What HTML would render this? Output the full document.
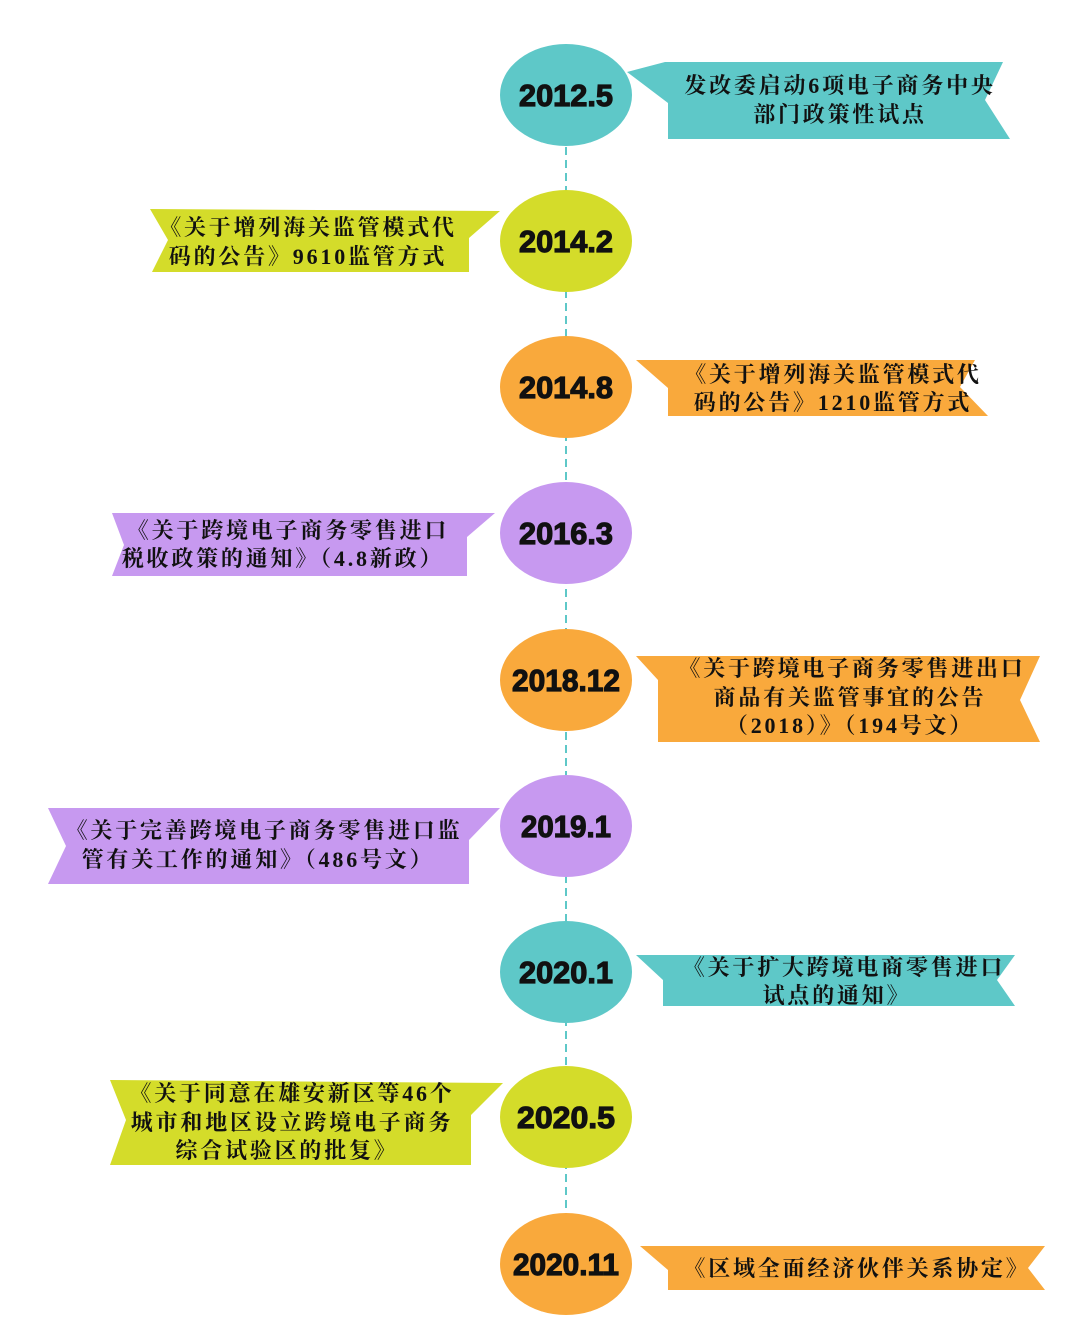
<!DOCTYPE html>
<html><head><meta charset="utf-8"><style>
html,body{margin:0;padding:0;background:#fff;width:1080px;height:1343px;overflow:hidden}
svg{display:block}
.t{font-family:"Liberation Serif","Noto Serif CJK SC","Noto Sans CJK SC",serif;font-weight:bold;font-size:22px;fill:#111;letter-spacing:2.8px}
.y{font-family:"Liberation Sans",sans-serif;font-weight:bold;font-size:31px;fill:#111;stroke:#111;stroke-width:1.2px}
</style></head><body>
<svg width="1080" height="1343" viewBox="0 0 1080 1343">
<line x1="566" y1="95" x2="566" y2="1264" stroke="#5ec8c8" stroke-width="2" stroke-dasharray="8,5"/>

<polygon points="627,72 665,62 1003,62 985,100 1010,139 668,139 668,103" fill="#5ec8c8"/>
<polygon points="636,360 668,360 975,360 960,387 988,416 668,416 668,388" fill="#f9a93c"/>
<polygon points="636,656 658,656 1040,656 1020,700 1040,742 658,742 658,680" fill="#f9a93c"/>
<polygon points="636,955 663,955 1015,955 997,980 1015,1006 663,1006 663,980" fill="#5ec8c8"/>
<polygon points="640,1246 668,1246 1045,1246 1028,1268 1045,1290 668,1290 668,1270" fill="#f9a93c"/>

<polygon points="500,211 150,209 168,240 152,272 469,272 469,238" fill="#d4dc2a"/>
<polygon points="495,513 112,513 124,545 112,576 467,576 467,537" fill="#c799f0"/>
<polygon points="500,808 48,808 66,846 48,884 469,884 469,840" fill="#c799f0"/>
<polygon points="503,1083 110,1080 126,1120 110,1165 471,1165 471,1115" fill="#d4dc2a"/>

<ellipse cx="566" cy="95" rx="66" ry="51" fill="#5ec8c8"/>
<ellipse cx="566" cy="241" rx="66" ry="51" fill="#d4dc2a"/>
<ellipse cx="566" cy="387" rx="66" ry="51" fill="#f9a93c"/>
<ellipse cx="566" cy="533" rx="66" ry="51" fill="#c799f0"/>
<ellipse cx="566" cy="680" rx="66" ry="51" fill="#f9a93c"/>
<ellipse cx="566" cy="826" rx="66" ry="51" fill="#c799f0"/>
<ellipse cx="566" cy="972" rx="66" ry="51" fill="#5ec8c8"/>
<ellipse cx="566" cy="1117" rx="66" ry="51" fill="#d4dc2a"/>
<ellipse cx="566" cy="1264" rx="66" ry="51" fill="#f9a93c"/>

<g class="y" text-anchor="middle">
<text x="566" y="106" textLength="94" lengthAdjust="spacingAndGlyphs">2012.5</text>
<text x="566" y="252" textLength="94" lengthAdjust="spacingAndGlyphs">2014.2</text>
<text x="566" y="398" textLength="94" lengthAdjust="spacingAndGlyphs">2014.8</text>
<text x="566" y="544" textLength="94" lengthAdjust="spacingAndGlyphs">2016.3</text>
<text x="566" y="691" textLength="108" lengthAdjust="spacingAndGlyphs">2018.12</text>
<text x="566" y="837" textLength="90" lengthAdjust="spacingAndGlyphs">2019.1</text>
<text x="566" y="983" textLength="94" lengthAdjust="spacingAndGlyphs">2020.1</text>
<text x="566" y="1128" textLength="98" lengthAdjust="spacingAndGlyphs">2020.5</text>
<text x="566" y="1275" textLength="106" lengthAdjust="spacingAndGlyphs">2020.11</text>
</g>

<g class="t" text-anchor="middle">
<text x="840" y="93">发改委启动6项电子商务中央</text>
<text x="840" y="122">部门政策性试点</text>
<text x="308" y="235">《关于增列海关监管模式代</text>
<text x="308" y="264">码的公告》9610监管方式</text>
<text x="833" y="382">《关于增列海关监管模式代</text>
<text x="833" y="410">码的公告》1210监管方式</text>
<text x="288" y="538">《关于跨境电子商务零售进口</text>
<text x="283" y="566">税收政策的通知》（4.8新政）</text>
<text x="852" y="676">《关于跨境电子商务零售进出口</text>
<text x="850" y="705">商品有关监管事宜的公告</text>
<text x="850" y="733">（2018）》（194号文）</text>
<text x="264" y="838">《关于完善跨境电子商务零售进口监</text>
<text x="258" y="867">管有关工作的通知》（486号文）</text>
<text x="844" y="975">《关于扩大跨境电商零售进口</text>
<text x="837" y="1003">试点的通知》</text>
<text x="292" y="1101">《关于同意在雄安新区等46个</text>
<text x="292" y="1130">城市和地区设立跨境电子商务</text>
<text x="287" y="1158">综合试验区的批复》</text>
<text x="857" y="1276">《区域全面经济伙伴关系协定》</text>
</g>
</svg>
</body></html>
